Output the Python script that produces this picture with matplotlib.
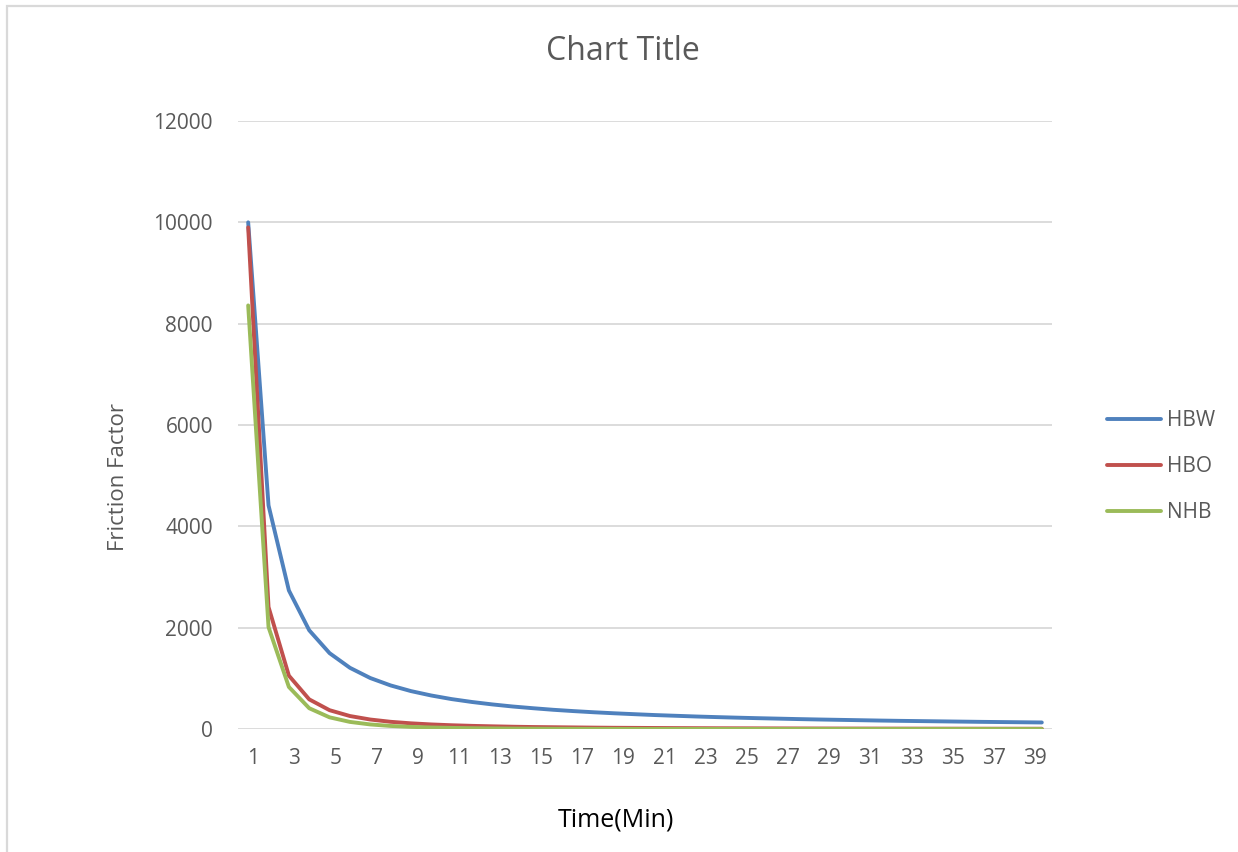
import matplotlib
matplotlib.use("Agg")
import matplotlib.pyplot as plt
from matplotlib.patches import Rectangle

plt.rcParams["font.family"] = ["Open Sans", "DejaVu Sans"]

# minutes 1..40 (labels shown every second category)
time_min = list(range(1, 41))
tick_labels = [str(t) for t in range(1, 40, 2)]

hbw = [10000, 4414, 2735, 1948, 1497, 1208, 1006, 860, 748, 661,
       590, 533, 485, 444, 410, 379, 353, 330, 310, 292,
       275, 261, 247, 235, 224, 214, 205, 196, 188, 181,
       174, 167, 161, 156, 151, 146, 141, 137, 133, 129]
hbo = [9900, 2408, 1053, 585, 371, 256, 187, 142, 112, 90,
       74, 62, 53, 45, 39, 35, 31, 27, 24, 22,
       20, 18, 16.5, 15, 14, 13, 12, 11, 10.3, 9.6,
       9, 8.5, 8, 7.5, 7, 6.6, 6.2, 5.9, 5.6, 5.3]
nhb = [8360, 2010, 830, 410, 230, 140, 90, 60, 42, 30,
       22, 16, 12, 9, 7, 5, 4, 3, 2.5, 2,
       1.6, 1.3, 1, 0.8, 0.6, 0.5, 0.4, 0.3, 0.25, 0.2,
       0.15, 0.1, 0.1, 0.1, 0.1, 0.1, 0.1, 0.1, 0.1, 0.1]

series = [("HBW", hbw, "#4F81BD"), ("HBO", hbo, "#C0504D"), ("NHB", nhb, "#9BBB59")]

W, H = 1238, 852
fig = plt.figure(figsize=(W / 100, H / 100), dpi=100)
ax = fig.add_axes([238 / W, 1 - 729 / H, 814 / W, 608 / H])

for name, vals, col in series:
    ax.plot(time_min, vals, color=col, lw=2.8, label=name, solid_capstyle="round")

ax.set_xlim(0.5, 40.5)
ax.set_ylim(0, 12000)
ax.set_yticks(range(0, 12001, 2000))
# Excel spreads the labels a little wider than the categories
n_lab = len(tick_labels)
ax.set_xticks([1.24 + i * (39.66 - 1.24) / (n_lab - 1) for i in range(n_lab)])
ax.set_xticklabels(tick_labels)
ax.grid(axis="y", color="#D9D9D9", lw=1.3)
ax.set_axisbelow(True)
for s in ax.spines.values():
    s.set_visible(False)
ax.tick_params(length=0, labelsize=15, colors="#595959")
ax.tick_params(axis="y", pad=18)
ax.tick_params(axis="x", pad=14)

fig.text(623 / W, 1 - 51 / H, "Chart Title", ha="center", va="center",
         fontsize=23, color="#595959")
fig.text(118 / W, 1 - 477 / H, "Friction Factor", ha="center", va="center",
         rotation=90, fontsize=16, color="#595959")
fig.text(616 / W, 1 - 820 / H, "Time(Min)", ha="center", va="center",
         fontsize=18, color="black")

leg = ax.legend(loc="center left", bbox_to_anchor=(1088 / W, 1 - 467 / H),
                bbox_transform=fig.transFigure, frameon=False, fontsize=15,
                handlelength=2.6, handletextpad=0.3, labelspacing=1.2)
for t in leg.get_texts():
    t.set_color("#595959")

# chart area border (only left/top edges fall inside the picture)
fig.patches.append(Rectangle((7 / W, -0.1), 1.2, 1 - 6 / H + 0.1,
                             transform=fig.transFigure, fill=False,
                             edgecolor="#D9D9D9", lw=1.6))

fig.savefig("out.png", dpi=100)
